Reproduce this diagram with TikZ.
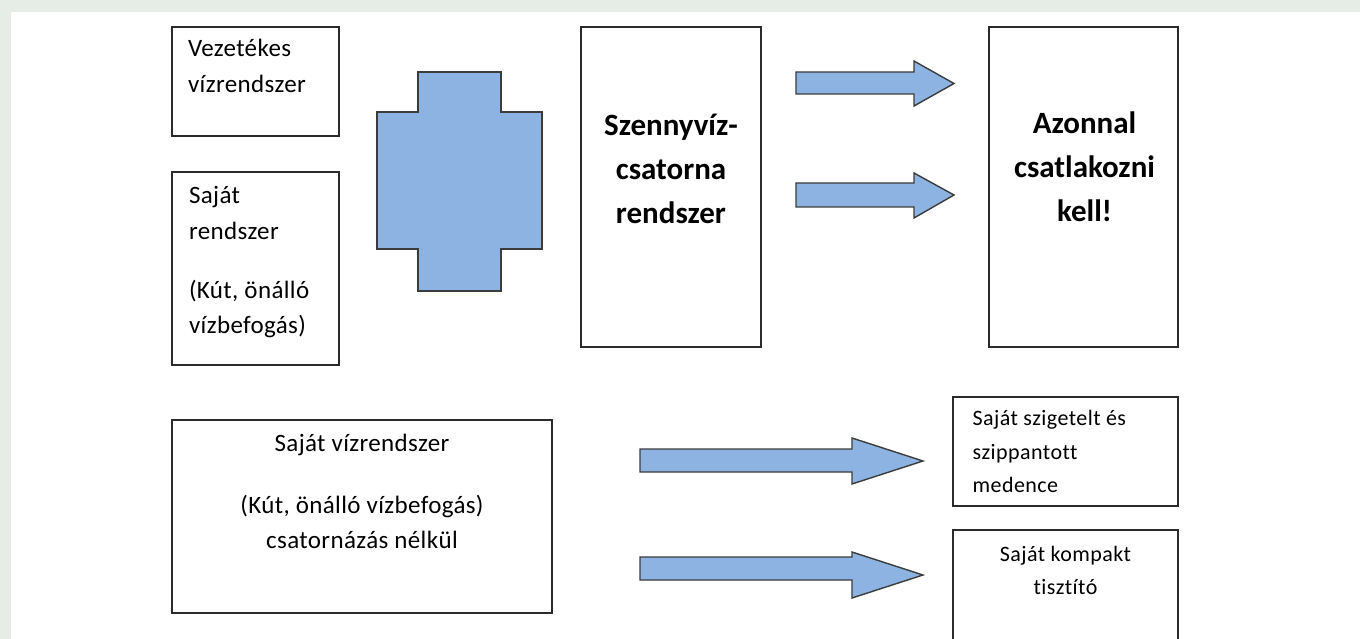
\documentclass[tikz,border=0pt]{standalone}
\usepackage{fontspec}
\setmainfont{Carlito}[Ligatures={NoCommon}]
\definecolor{bggreen}{HTML}{E5EDE6}
\definecolor{boxline}{HTML}{2B2B2B}
\definecolor{arrowfill}{HTML}{8DB3E2}
\definecolor{arrowline}{HTML}{3C3C3C}
\newcommand\stackL[1]{\vtop{\halign{##\hfil\cr#1\crcr}}}
\newcommand\stackC[1]{\vtop{\halign{\hfil##\hfil\cr#1\crcr}}}
\begin{document}
\begin{tikzpicture}[x=1pt,y=-1pt,
  boxnode/.style={draw=boxline, line width=1.8pt, fill=white, inner sep=0pt, outer sep=0pt, anchor=north west},
  blockshape/.style={fill=arrowfill, draw=arrowline, line width=1.4pt, line join=miter},
  txt/.style={inner sep=0pt, outer sep=0pt, text=black},
  regtxt/.style={txt, font=\fontsize{25}{35.5}\selectfont\addfontfeatures{LetterSpace=1.5}},
  boldtxt/.style={txt, font=\fontsize{31}{44}\selectfont\bfseries},
  smalltxt/.style={txt, font=\fontsize{22}{33.5}\selectfont\addfontfeatures{LetterSpace=2}}
]
\useasboundingbox (0,0) rectangle (1360,639);
\clip (0,0) rectangle (1360,639);
\fill[bggreen] (0,0) rectangle (1360,639);
\fill[white] (11,12) rectangle (1360,639);

% boxes
\node[boxnode, minimum width=167pt, minimum height=109pt] (b1) at (172,27) {};
\node[boxnode, minimum width=167pt, minimum height=193pt] (b2) at (172,172) {};
\node[boxnode, minimum width=180pt, minimum height=320pt] (sz) at (581,27) {};
\node[boxnode, minimum width=189pt, minimum height=320pt] (az) at (989,27) {};
\node[boxnode, minimum width=380pt, minimum height=193pt] (big) at (172,420) {};
\node[boxnode, minimum width=225pt, minimum height=109pt] (r1) at (953,397) {};
\node[boxnode, minimum width=225pt, minimum height=130pt] (r2) at (953,530) {};

% cross shape
\draw[blockshape] (418,72) -- (501,72) -- (501,112) -- (542,112) -- (542,249) -- (501,249)
  -- (501,291) -- (418,291) -- (418,249) -- (377,249) -- (377,112) -- (418,112) -- cycle;

% block arrows
\draw[blockshape] (796,72) -- (914,72) -- (914,61) -- (954,83.5) -- (914,106) -- (914,94) -- (796,94) -- cycle;
\draw[blockshape] (796,183) -- (914,183) -- (914,173) -- (954,195) -- (914,218) -- (914,207) -- (796,207) -- cycle;
\draw[blockshape] (640,449) -- (852,449) -- (852,438) -- (923,461) -- (852,484) -- (852,472) -- (640,472) -- cycle;
\draw[blockshape] (640,557) -- (852,557) -- (852,552) -- (923,575) -- (852,598) -- (852,580) -- (640,580) -- cycle;

% texts
\node[regtxt, anchor=base west] (t1) at (188,57) {\stackL{Vezetékes\cr vízrendszer}};
\node[regtxt, anchor=base west] (t2) at (189,204) {\stackL{Saját\cr rendszer\cr\noalign{\vskip 23.5pt} (Kút, önálló\cr vízbefogás)}};
\node[boldtxt, anchor=base] (t3) at (671,135.7) {\stackC{Szennyvíz-\cr csatorna\cr rendszer}};
\node[boldtxt, anchor=base] (t4) at (1084.5,133.5) {\stackC{Azonnal\cr csatlakozni\cr kell!}};
\node[regtxt, anchor=base] (t5) at (362,451.7) {\stackC{Saját vízrendszer\cr\noalign{\vskip 26pt} (Kút, önálló vízbefogás)\cr csatornázás nélkül}};
\node[smalltxt, anchor=base west] (t6) at (972.7,425.7) {\stackL{Saját szigetelt és\cr szippantott\cr medence}};
\node[smalltxt, anchor=base] (t7) at (1065.5,561) {\stackC{Saját kompakt\cr tisztító}};
\end{tikzpicture}
\end{document}
